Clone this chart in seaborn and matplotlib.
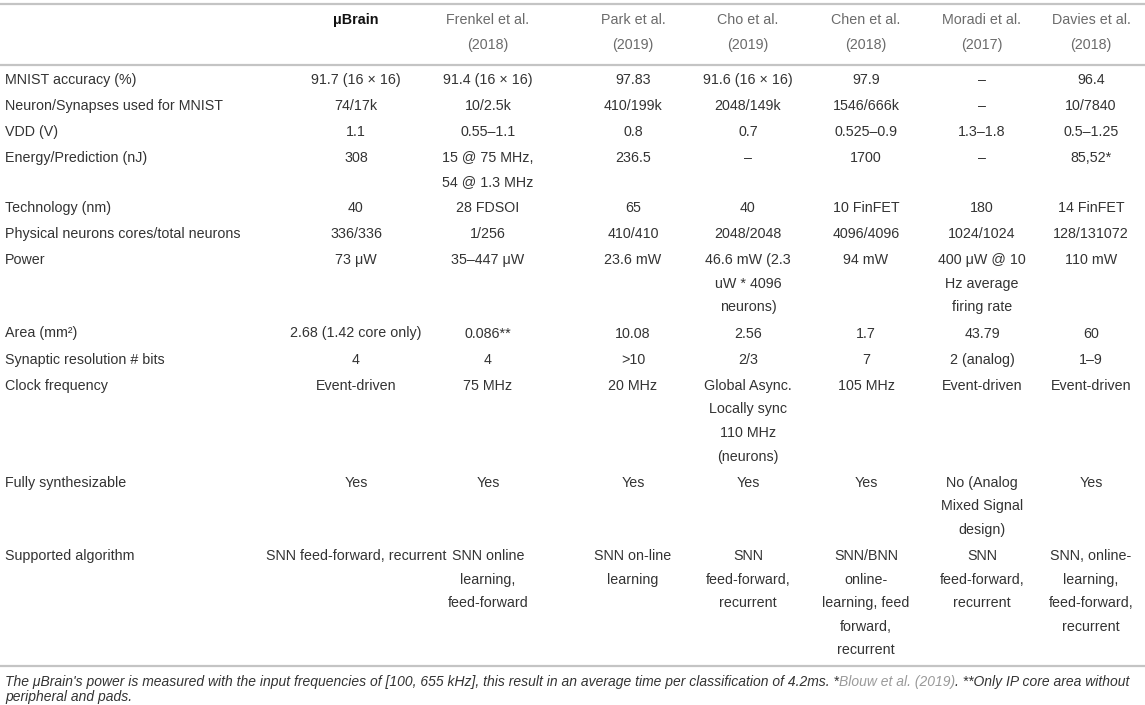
import matplotlib
matplotlib.use("Agg")
import matplotlib.pyplot as plt
import seaborn as sns
import pandas as pd

# ---------------- data ----------------
columns = ["μBrain", "Frenkel et al.\n(2018)", "Park et al.\n(2019)", "Cho et al.\n(2019)",
           "Chen et al.\n(2018)", "Moradi et al.\n(2017)", "Davies et al.\n(2018)"]

row_labels = ["MNIST accuracy (%)", "Neuron/Synapses used for MNIST", "VDD (V)",
              "Energy/Prediction (nJ)", "Technology (nm)", "Physical neurons cores/total neurons",
              "Power", "Area (mm²)", "Synaptic resolution # bits", "Clock frequency",
              "Fully synthesizable", "Supported algorithm"]

ubrain = ["91.7 (16 × 16)", "74/17k", "1.1", "308", "40", "336/336", "73 μW",
          "2.68 (1.42 core only)", "4", "Event-driven", "Yes", "SNN feed-forward, recurrent"]
frenkel = ["91.4 (16 × 16)", "10/2.5k", "0.55–1.1", "15 @ 75 MHz,\n54 @ 1.3 MHz", "28 FDSOI",
           "1/256", "35–447 μW", "0.086**", "4", "75 MHz", "Yes",
           "SNN online\nlearning,\nfeed-forward"]
park = ["97.83", "410/199k", "0.8", "236.5", "65", "410/410", "23.6 mW", "10.08", ">10",
        "20 MHz", "Yes", "SNN on-line\nlearning"]
cho = ["91.6 (16 × 16)", "2048/149k", "0.7", "–", "40", "2048/2048",
       "46.6 mW (2.3\nuW * 4096\nneurons)", "2.56", "2/3",
       "Global Async.\nLocally sync\n110 MHz\n(neurons)", "Yes",
       "SNN\nfeed-forward,\nrecurrent"]
chen = ["97.9", "1546/666k", "0.525–0.9", "1700", "10 FinFET", "4096/4096", "94 mW", "1.7",
        "7", "105 MHz", "Yes", "SNN/BNN\nonline-\nlearning, feed\nforward,\nrecurrent"]
moradi = ["–", "–", "1.3–1.8", "–", "180", "1024/1024",
          "400 μW @ 10\nHz average\nfiring rate", "43.79", "2 (analog)", "Event-driven",
          "No (Analog\nMixed Signal\ndesign)", "SNN\nfeed-forward,\nrecurrent"]
davies = ["96.4", "10/7840", "0.5–1.25", "85,52*", "14 FinFET", "128/131072", "110 mW", "60",
          "1–9", "Event-driven", "Yes",
          "SNN, online-\nlearning,\nfeed-forward,\nrecurrent"]

foot_a = ("The μBrain's power is measured with the input frequencies of [100, 655 kHz], "
          "this result in an average time per classification of 4.2ms. *")
foot_ref = "Blouw et al. (2019)"
foot_b = ". **Only IP core area without"
foot_2 = "peripheral and pads."

table = pd.DataFrame({c: v for c, v in zip(columns, [ubrain, frenkel, park, cho, chen, moradi, davies])},
                     index=row_labels)

# ---------------- style ----------------
sns.set_theme(style="white")
plt.rcParams["font.family"] = ["Liberation Sans", "DejaVu Sans"]

W, H = 1145, 705
fig = plt.figure(figsize=(W / 100, H / 100), dpi=100)
ax = fig.add_axes([0, 0, 1, 1])
ax.set_xlim(0, W)
ax.set_ylim(H, 0)
ax.axis("off")

body_color = "#333333"
head_color = "#6b6b6b"
rule_color = "#c4c4c4"
fs = 10.3
L = 23.6      # line height
P = 2.5       # row padding

col_x = [356, 488, 633, 748, 866, 982, 1091]
label_x = 5

# rules
for yy in (4, 65):
    ax.plot([0, W], [yy, yy], color=rule_color, lw=1.6, solid_capstyle="butt")

# header
for j, c in enumerate(table.columns):
    lines = c.split("\n")
    for i, ln in enumerate(lines):
        if j == 0:
            ax.text(col_x[j], 20 + i * 24.5, ln, ha="center", va="center", fontsize=fs,
                    color="#111111", fontweight="bold")
        else:
            ax.text(col_x[j], 20 + i * 24.5, ln, ha="center", va="center", fontsize=fs,
                    color=head_color)

# body
y = 80
for r, lab in enumerate(table.index):
    cells = list(table.loc[lab])
    n = max(len(s.split("\n")) for s in cells)
    ax.text(label_x, y, lab, ha="left", va="center", fontsize=fs, color=body_color)
    for j, s in enumerate(cells):
        for i, ln in enumerate(s.split("\n")):
            ax.text(col_x[j], y + i * L, ln, ha="center", va="center", fontsize=fs,
                    color=body_color)
    y += n * L + P

last_line = y - L - P
bottom_rule = last_line + 16
ax.plot([0, W], [bottom_rule, bottom_rule], color=rule_color, lw=1.6, solid_capstyle="butt")

# footnote
ffs = 10.0
fy = bottom_rule + 16
fig.canvas.draw()
renderer = fig.canvas.get_renderer()
x = label_x
inv = ax.transData.inverted()
for seg, col in ((foot_a, body_color), (foot_ref, "#9a9a9a"), (foot_b, body_color)):
    t = ax.text(x, fy, seg, ha="left", va="center", fontsize=ffs, style="italic", color=col)
    bb = t.get_window_extent(renderer=renderer)
    x = inv.transform((bb.x1, bb.y0))[0]
ax.text(label_x, fy + 15, foot_2, ha="left", va="center", fontsize=ffs, style="italic",
        color=body_color)

fig.savefig("out.png", dpi=100)
